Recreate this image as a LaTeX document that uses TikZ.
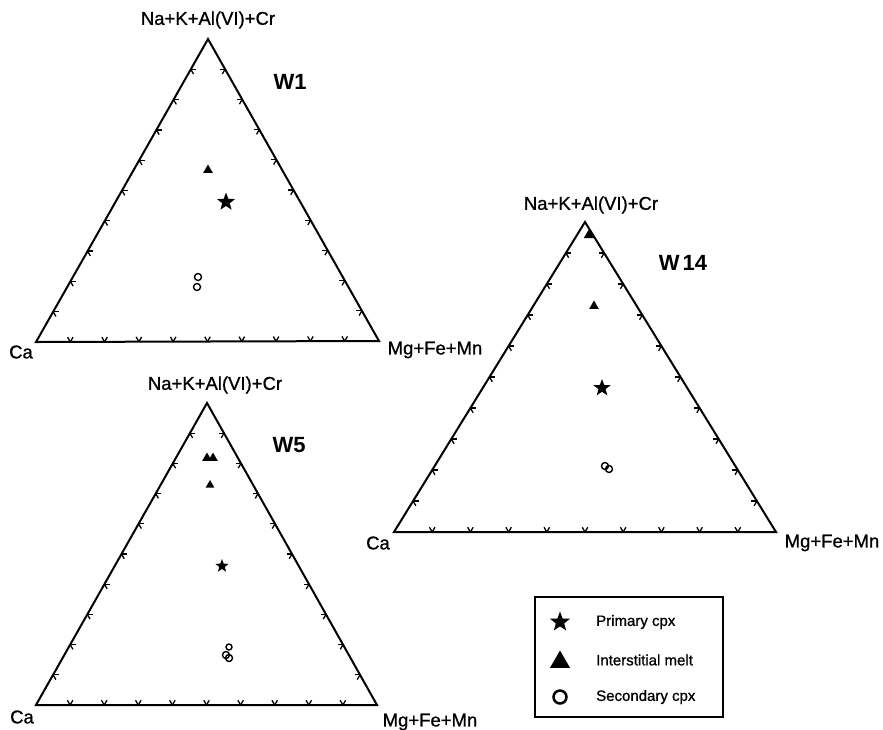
\documentclass[tikz,border=0pt]{standalone}
\usepackage{fontspec}
\setmainfont{Liberation Sans}
\newfontfamily\heavyfont{Liberation Sans}[FakeBold=0.9]
\usetikzlibrary{shapes.geometric,calc}
\tikzset{
  side/.style={line width=2pt, line join=miter},
  tickmark/.style={line width=1.3pt},
  lab/.style={font=\heavyfont\fontsize{18.5}{20}\selectfont, inner sep=0pt},
  wlab/.style={font=\fontsize{22}{24}\selectfont\bfseries, inner sep=0pt},
  legtext/.style={font=\heavyfont\fontsize{15}{17}\selectfont, inner sep=0pt, anchor=west},
  starmk/.style={star, star points=5, star point ratio=2.4, fill=black, inner sep=0pt, minimum size=#1},
  trimk/.style={regular polygon, regular polygon sides=3, fill=black, inner sep=0pt, minimum size=#1},
  circmk/.style={circle, draw=black, line width=1.4pt, inner sep=0pt, minimum size=#1},
}
\newcommand{\ternaryframe}[3]{%
  \draw[side] (#1) -- (#2) -- (#3) -- cycle;
  \foreach \i in {1,...,9}{
    \draw[tickmark] ($(#1)!\i/10!(#2)$) -- ++(5.5,0);
    \draw[tickmark] ($(#1)!\i/10!(#2)$) -- ++(2.75,4.76);
    \draw[tickmark] ($(#1)!\i/10!(#3)$) -- ++(-5.5,0);
    \draw[tickmark] ($(#1)!\i/10!(#3)$) -- ++(-2.75,4.76);
    \draw[tickmark] ($(#2)!\i/10!(#3)$) -- ++(2.75,-4.76);
    \draw[tickmark] ($(#2)!\i/10!(#3)$) -- ++(-2.75,-4.76);
  }%
}
\begin{document}
\begin{tikzpicture}[x=1pt,y=-1pt]
\useasboundingbox (0,0) rectangle (883,729);
\fill[white] (0,0) rectangle (883,729);

% ---------- W1 ----------
\coordinate (A1) at (208,39);
\coordinate (B1) at (36,342);
\coordinate (C1) at (379,341);
\ternaryframe{A1}{B1}{C1}
\node[lab] (top1) at (208,20) {Na+K+Al(VI)+Cr};
\node[lab] (ca1) at (21,352) {Ca};
\node[lab] (mg1) at (435,350) {Mg+Fe+Mn};
\node[wlab] (w1) at (290,82) {W1};
\node[trimk=11pt] (w1t1) at (208,170) {};
\node[starmk=19pt] (w1s1) at (226,202) {};
\node[circmk=7pt] (w1c1) at (198,277) {};
\node[circmk=7pt] (w1c2) at (197,287) {};

% ---------- W14 ----------
\coordinate (A2) at (585,222);
\coordinate (B2) at (394,532);
\coordinate (C2) at (776,532);
\ternaryframe{A2}{B2}{C2}
\node[lab] (top2) at (591,205) {Na+K+Al(VI)+Cr};
\node[lab] (ca2) at (378,543) {Ca};
\node[lab] (mg2) at (832,543) {Mg+Fe+Mn};
\node[wlab] (w14) at (683,263) {W\kern3pt14};
\node[trimk=12pt] (w14t1) at (589,235) {};
\node[trimk=11pt] (w14t2) at (594,306) {};
\node[starmk=18pt] (w14s1) at (602,388) {};
\node[circmk=7pt] (w14c1) at (605,466) {};
\node[circmk=7pt] (w14c2) at (609,469) {};

% ---------- W5 ----------
\coordinate (A3) at (207,403);
\coordinate (B3) at (36,705);
\coordinate (C3) at (377,705);
\ternaryframe{A3}{B3}{C3}
\node[lab] (top3) at (215,385) {Na+K+Al(VI)+Cr};
\node[lab] (ca3) at (22,717) {Ca};
\node[lab] (mg3) at (430,722) {Mg+Fe+Mn};
\node[wlab] (w5) at (289,445) {W5};
\node[trimk=11pt] (w5t1) at (207,458) {};
\node[trimk=11pt] (w5t2) at (213,458) {};
\node[trimk=10pt] (w5t3) at (210,485) {};
\node[starmk=14pt] (w5s1) at (222,566) {};
\node[circmk=6pt] (w5c1) at (229,647) {};
\node[circmk=7pt] (w5c2) at (226,655) {};
\node[circmk=7pt] (w5c3) at (229,658) {};

% ---------- Legend ----------
\node[draw=black, line width=1.3pt, minimum width=188pt, minimum height=120pt, inner sep=0pt] (legend) at (629,657) {};
\node[starmk=21pt] (lgs) at (560,622) {};
\node[trimk=23pt] (lgt) at (560,662) {};
\node[circmk=13pt, line width=2.5pt] (lgc) at (560,697) {};
\node[legtext] (lgs-t) at (596,622) {Primary cpx};
\node[legtext] (lgt-t) at (596,660) {Interstitial melt};
\node[legtext] (lgc-t) at (596,697) {Secondary cpx};
\end{tikzpicture}
\end{document}
